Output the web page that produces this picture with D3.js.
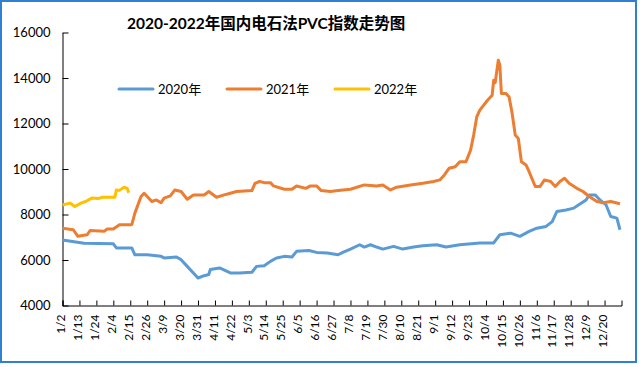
<!DOCTYPE html>
<html><head><meta charset="utf-8">
<script src="https://cdn.jsdelivr.net/npm/d3@7"></script>
<style>
html,body{margin:0;padding:0;background:#fff;}
text{font-family:Lato,"Noto Sans CJK SC",sans-serif;}
</style></head>
<body><svg id="c" width="640" height="367"></svg>
<script>
const title = "2020-2022年国内电石法PVC指数走势图";
const seriesNames = ["2020年","2021年","2022年"];
const seriesColors = ["#5b9bd5","#ed7d31","#ffc000"];
const tickLabels = ["1/2","1/13","1/24","2/4","2/15","2/26","3/9","3/20","3/31","4/11","4/22","5/3","5/14","5/25","6/5","6/16","6/27","7/8","7/19","7/30","8/10","8/21","9/1","9/12","9/23","10/4","10/15","10/26","11/6","11/17","11/28","12/9","12/20"];
const yTicks = [4000,6000,8000,10000,12000,14000,16000];

const dates2020 = ["1/2","1/16","2/4","2/6","2/16","2/18","2/26","3/7","3/9","3/17","3/20","3/24","3/28","3/31","4/4","4/7","4/8","4/14","4/21","4/27","5/5","5/8","5/13","5/17","5/21","5/26","5/31","6/3","6/11","6/16","6/23","6/30","7/3","7/8","7/14","7/17","7/21","7/25","7/29","8/5","8/11","8/18","8/24","9/2","9/8","9/17","9/30","10/9","10/13","10/20","10/26","11/1","11/6","11/12","11/16","11/19","11/25","11/30","12/3","12/8","12/10","12/14","12/17","12/21","12/24","12/28","12/30"];
const values2020 = [6880,6740,6710,6530,6530,6230,6230,6160,6090,6130,6015,5720,5430,5210,5310,5360,5580,5650,5430,5430,5460,5720,5750,5940,6090,6160,6130,6380,6420,6335,6310,6230,6335,6480,6670,6570,6670,6570,6480,6600,6480,6570,6630,6670,6570,6670,6750,6750,7110,7180,7040,7260,7400,7475,7690,8130,8200,8280,8420,8640,8860,8860,8640,8420,7910,7840,7330];

const dates2021 = ["1/2","1/9","1/12","1/18","1/20","1/29","1/31","2/4","2/8","2/16","2/18","2/22","2/24","2/26","3/1","3/4","3/7","3/9","3/13","3/16","3/20","3/24","3/28","4/4","4/7","4/12","4/17","4/21","4/25","5/5","5/7","5/10","5/13","5/17","5/19","5/26","5/31","6/3","6/9","6/12","6/16","6/19","6/25","6/30","7/8","7/17","7/25","7/29","8/3","8/7","8/16","8/24","8/31","9/4","9/7","9/10","9/14","9/17","9/21","9/24","9/26","9/28","9/30","10/5","10/8","10/9","10/10","10/12","10/13","10/14","10/17","10/19","10/21","10/23","10/25","10/27","10/30","11/1","11/5","11/8","11/11","11/15","11/18","11/21","11/24","11/27","12/2","12/6","12/10","12/15","12/19","12/24","12/30"];
const values2021 = [7400,7330,7040,7110,7300,7260,7360,7360,7550,7550,8060,8790,8935,8790,8570,8640,8520,8720,8820,9080,9010,8670,8860,8860,9010,8760,8860,8935,9010,9050,9370,9450,9400,9400,9256,9110,9110,9256,9150,9256,9256,9050,9010,9050,9110,9300,9256,9300,9080,9200,9300,9370,9450,9520,9740,10030,10100,10320,10320,10830,11490,12290,12590,13020,13240,13900,13800,14780,14560,13320,13320,13170,12440,11490,11340,10320,10180,9880,9230,9230,9520,9450,9230,9450,9590,9370,9150,9010,8790,8570,8520,8570,8470];

const dates2022 = ["1/2","1/7","1/10","1/14","1/17","1/21","1/25","1/28","2/5","2/6","2/8","2/11","2/13","2/14"];
const values2022 = [8420,8500,8350,8500,8570,8720,8700,8760,8760,9080,9060,9200,9150,8960];

const parse = s => new Date(2021, +s.split("/")[0]-1, +s.split("/")[1]);
const svg = d3.select("#c");

svg.append("rect").attr("x",1).attr("y",1).attr("width",635).attr("height",361)
  .attr("fill","#fff").attr("stroke","#2f7fd3").attr("stroke-width",2);

const x = d3.scaleTime().domain([parse("1/2"), parse("12/31")]).range([62.5, 621.5]);
const y = d3.scaleLinear().domain([4000,16000]).range([305.5, 32.5]);

svg.append("text").attr("x",127).attr("y",29).attr("font-size",15.5).attr("font-weight","bold")
  .attr("fill","#000").text(title);

// axes
const gy = svg.append("g").attr("transform","translate(62.5,0)")
  .call(d3.axisLeft(y).tickValues(yTicks).tickSizeInner(-6).tickSizeOuter(0).tickPadding(12).tickFormat(d3.format("d")));
gy.selectAll("text").attr("font-size",13).attr("fill","#000").attr("font-family","Lato,sans-serif");
gy.selectAll("line,path").attr("stroke","#000");

const gx = svg.append("g").attr("transform","translate(0,305.5)")
  .call(d3.axisBottom(x).tickValues(tickLabels.map(parse)).tickSizeInner(-5).tickSizeOuter(-5)
    .tickFormat((d,i)=>tickLabels[i]));
gx.selectAll("line,path").attr("stroke","#000");
gx.selectAll("text").attr("font-size",12).attr("fill","#000").attr("font-family","Lato,sans-serif")
  .attr("text-anchor","end").attr("transform","rotate(-90)")
  .attr("x",-9).attr("y",-2).attr("dy","0.35em");

const line = d3.line().x(d=>x(d[0])).y(d=>y(d[1]));
const series = [
  [dates2020, values2020],
  [dates2021, values2021],
  [dates2022, values2022]
];
series.forEach((s,i)=>{
  const pts = s[0].map((dt,j)=>[parse(dt), s[1][j]]);
  svg.append("path").datum(pts).attr("d",line).attr("fill","none")
    .attr("stroke",seriesColors[i]).attr("stroke-width",3).attr("stroke-linejoin","round");
});

// legend
const legX = [119,227,335];
seriesNames.forEach((n,i)=>{
  svg.append("line").attr("x1",legX[i]).attr("x2",legX[i]+34).attr("y1",89).attr("y2",89)
    .attr("stroke",seriesColors[i]).attr("stroke-width",3).attr("stroke-linecap","round");
  svg.append("text").attr("x",legX[i]+39).attr("y",93.5).attr("font-size",13).attr("fill","#000").text(n);
});
</script></body></html>
